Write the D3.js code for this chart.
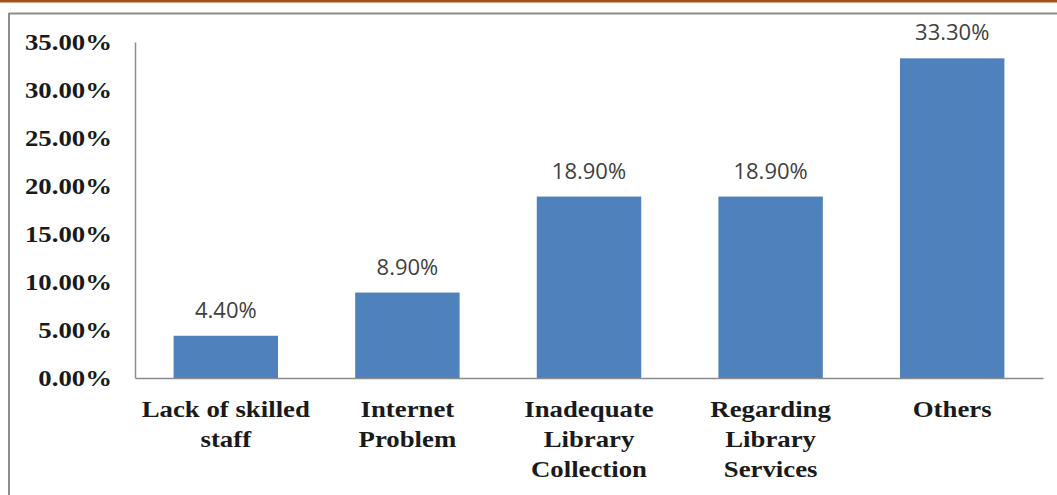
<!DOCTYPE html>
<html>
<head>
<meta charset="utf-8">
<script src="https://cdn.jsdelivr.net/npm/d3@7"></script>
<style>
  html, body { margin: 0; padding: 0; background: #fff; }
  svg { display: block; }
</style>
</head>
<body>
<svg id="chart" width="1057" height="495"></svg>
<script>
// Survey responses: problems faced, share of respondents (%)
const categories = [
  ["Lack of skilled", "staff"],
  ["Internet", "Problem"],
  ["Inadequate", "Library", "Collection"],
  ["Regarding", "Library", "Services"],
  ["Others"]
];
const values = [4.4, 8.9, 18.9, 18.9, 33.3];
const valueLabels = ["4.40%", "8.90%", "18.90%", "18.90%", "33.30%"];
const yTicks = [0, 5, 10, 15, 20, 25, 30, 35];

const svg = d3.select("#chart");
const serif = "'Liberation Serif', 'Times New Roman', serif";
const stretch = 1.14; // serif labels are set slightly wide

// frame: brown rule on top, gray border box
svg.append("rect").attr("x", 0).attr("y", 0).attr("width", 1057).attr("height", 2.5).attr("fill", "#a3521f");
svg.append("line").attr("x1", 9).attr("x2", 1057).attr("y1", 13.5).attr("y2", 13.5)
  .attr("stroke", "#8c8c8c").attr("stroke-width", 2);
svg.append("line").attr("x1", 9).attr("x2", 9).attr("y1", 13).attr("y2", 495)
  .attr("stroke", "#8c8c8c").attr("stroke-width", 2);

const x0 = 135, x1 = 1043, yBase = 378, yTop = 42;
const x = d3.scaleBand().domain(d3.range(values.length)).range([x0, x1]).paddingInner(0.425).paddingOuter(0.2125);
const y = d3.scaleLinear().domain([0, 35]).range([yBase, yTop]);

// y axis
const yAxis = svg.append("g").attr("transform", `translate(${x0},0)`)
  .call(d3.axisLeft(y).tickValues(yTicks).tickSize(0).tickPadding(23 / stretch).tickFormat(d => d.toFixed(2) + "%"));
yAxis.select(".domain").attr("stroke", "#8c8c8c").attr("stroke-width", 1.5);
yAxis.selectAll("text")
  .attr("font-family", serif).attr("font-weight", "bold").attr("font-size", 23.5)
  .attr("fill", "#1a1a1a").attr("transform", `scale(${stretch},1)`);

// bars
svg.append("g").selectAll("rect").data(values).join("rect")
  .attr("x", (d, i) => x(i)).attr("width", x.bandwidth())
  .attr("y", d => y(d)).attr("height", d => y(0) - y(d))
  .attr("fill", "#4f81bd");

// x axis
const xAxis = svg.append("g").attr("transform", `translate(0,${yBase})`)
  .call(d3.axisBottom(x).tickSize(0).tickFormat(""));
xAxis.select(".domain").attr("stroke", "#8c8c8c").attr("stroke-width", 1.5);

// category labels
const catG = svg.append("g");
categories.forEach((lines, i) => {
  const cx = x(i) + x.bandwidth() / 2;
  const t = catG.append("text")
    .attr("transform", `translate(${cx},417) scale(${stretch},1)`)
    .attr("text-anchor", "middle")
    .attr("font-family", serif).attr("font-weight", "bold").attr("font-size", 23.5)
    .attr("fill", "#1a1a1a");
  lines.forEach((l, j) => t.append("tspan").attr("x", 0).attr("y", j * 30).text(l));
});

// value labels
svg.append("g").selectAll("text").data(values).join("text")
  .attr("x", (d, i) => x(i) + x.bandwidth() / 2).attr("y", d => y(d) - 18)
  .attr("text-anchor", "middle")
  .attr("font-family", "'Open Sans', 'Liberation Sans', sans-serif")
  .attr("font-size", 22).attr("fill", "#404040")
  .text((d, i) => valueLabels[i]);
</script>
</body>
</html>
